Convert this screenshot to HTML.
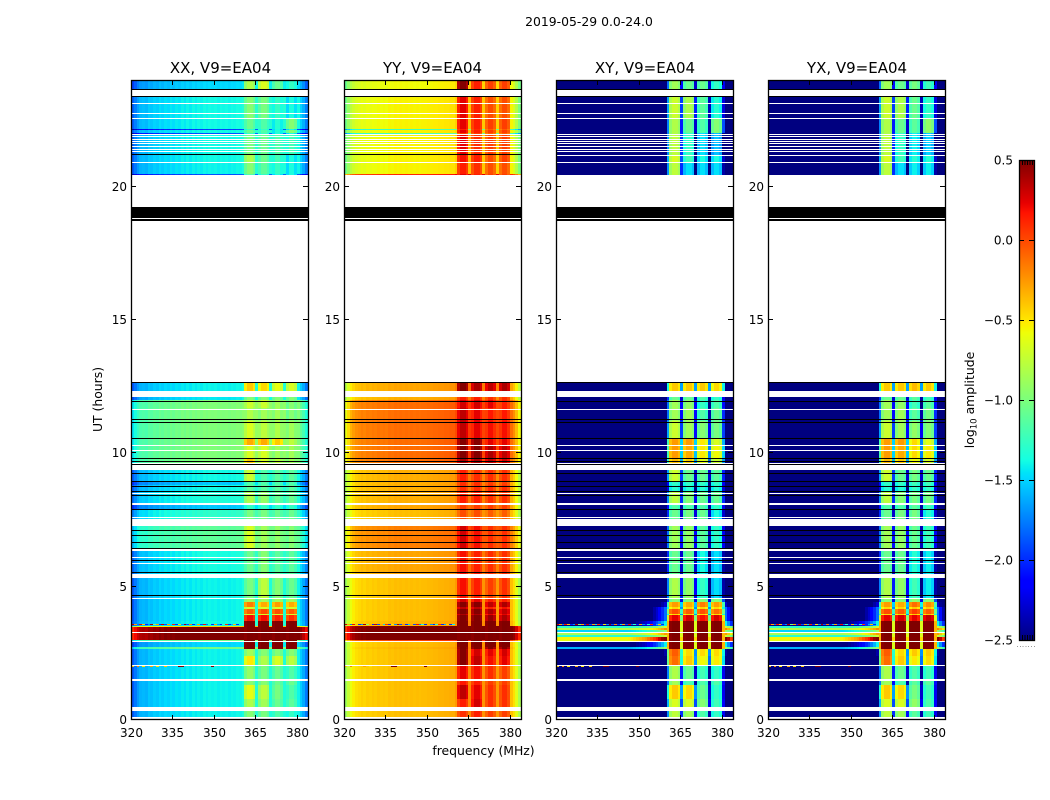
<!DOCTYPE html>
<html lang="en">
<head>
<meta charset="utf-8">
<title>2019-05-29 0.0-24.0 amplitude spectrogram</title>
<style>
html,body{margin:0;padding:0;background:#fff;}
svg{display:block;}
text{font-family:"DejaVu Sans","Liberation Sans",sans-serif;fill:#000;}
</style>
</head>
<body>
<svg id="figure" xmlns="http://www.w3.org/2000/svg" width="1050" height="800" viewBox="0 0 1050 800">
  <rect x="0" y="0" width="1050" height="800" fill="#fff"/>
  <text x="589" y="26" font-size="12.4" text-anchor="middle">2019-05-29 0.0-24.0</text>
  <text x="220.5" y="73" font-size="15" text-anchor="middle">XX, V9=EA04</text>
  <text x="432.5" y="73" font-size="15" text-anchor="middle">YY, V9=EA04</text>
  <text x="645" y="73" font-size="15" text-anchor="middle">XY, V9=EA04</text>
  <text x="857" y="73" font-size="15" text-anchor="middle">YX, V9=EA04</text>
  <text x="0" y="0" font-size="12.4" text-anchor="middle" transform="translate(102,399.5) rotate(-90)">UT (hours)</text>
  <text x="483.5" y="755" font-size="12.4" text-anchor="middle">frequency (MHz)</text>
  <text x="0" y="0" font-size="12.4" text-anchor="middle" transform="translate(974,400) rotate(-90)">log<tspan font-size="8.6" dy="2.5">10</tspan><tspan dy="-2.5"> amplitude</tspan></text>
  <g id="panels"></g>
  <g id="colorbar"></g>
</svg>
<script>
/* ---------- axis values ---------- */
const freqMin = 320;
const freqMax = 384;
const hourMin = 0;
const hourMax = 24;
const colorMin = -2.5;
const colorMax = 0.5;
const xTickValues = [320, 335, 350, 365, 380];
const yTickValues = [0, 5, 10, 15, 20];
const colorbarTicks = [0.5, 0, -0.5, -1, -1.5, -2, -2.5];
const colorbarTickLabels = ["0.5", "0.0", "\u22120.5", "\u22121.0", "\u22121.5", "\u22122.0", "\u22122.5"];
const panelNames = ["xx", "yy", "xy", "yx"];

/* ---------- frequency structure (MHz) ---------- */
const bandStarts = [361, 366, 371, 376];
const bandShape = [-0.08, 0.04, 0.04, -0.06];
const yxBandShift = [0, 0, 0.05, 0.05];
const xxProfile = [-.45,-.35,-.25,-.18,-.16,-.18,-.12,-.14,-.1,-.12,-.07,-.1,-.06,-.08,-.04,-.07,-.03,-.05,-.01,-.04,
  0,-.03,.01,-.02,.01,-.01,.02,0,.02,.01,.02,0,.02,.01,.02,0,.02,.01,.03,.02,
  .06,0,0,0,0,.1,0,0,0,0,.08,0,0,0,0,.08,0,0,0,0,.02,-.1,-.2,-.35];
const yyProfile = [-.5,-.35,-.22,-.15,-.1,-.08,-.05,-.07,-.04,-.05,-.03,-.04,-.02,-.03,-.02,-.03,0,-.01,.01,0,
  .01,0,.01,0,.01,0,.01,0,.01,.01,.02,.02,.03,.03,.04,.04,.05,.05,.06,.06,
  .12,0,0,0,0,.18,0,0,0,0,.14,0,0,0,0,.12,0,0,0,0,0,-.1,-.25,-.45];
const xyRamp = [0,0,0,0,0,0,0,0,0,0,0,0,0,0,0,0,0,0,0,0,
  0,0,0,0,0,.02,.03,.03,.04,.04,.05,.05,.05,.05,.06,.06,.07,.08,.09,.1,
  .1,.1,.1,.1,.1,.1,.1,.1,.1,.1,.1,.1,.1,.1,.1,.1,.1,.1,.1,.1,.1,.1,.1,.1];
const xyRampNear = [0,.02,.05,.1,.15,.2,.25,.3,.4,.5,.6,.7,.85,1,1.2];
const xyRampRight = [1.2,.9,.6];

/* ---------- time structure: one entry per row band (UT hours) ---------- */
const rowStarts = [0,.47,.8,1.3,1.52,2.05,2.4,2.65,2.73,2.96,3.01,3.1,3.2,3.3,3.36,3.45,3.47,3.54,3.7,3.92,3.97,4.15,4.22,4.42,4.55,5.4,6.4,7.3,7.5,7.9,8.1,8.6,8.8,8.97,9.4,9.6,9.8,10.27,10.55,11.2,11.7,12,12.3,12.66,20.42,20.46,20.9,21.2,21.98,22.02,22.14,22.18,22.55,23.4,23.64];
const rowEnd = 24;
const xxBase = [-1.42,-1.42,-1.42,-1.42,-1.42,-1.42,-1.42,-1.05,-1.5,-1.05,.55,.55,.55,.55,.55,.55,-.45,-1.4,-1.42,-1.42,-1.42,-1.42,-1.42,-1.42,-1.42,-1.38,-1.12,-1.12,-1.3,-1.55,-1.35,-1.4,-1.55,-1.4,-1.15,-1,-1,-1,-1,-1,-1,-1.45,-1.42,null,-1.9,-1.42,-1.4,-1.4,-1.9,-1.4,-1.95,-1.4,-1.4,-1.4,-1.5];
const yyBase = [-.38,-.38,-.38,-.38,-.38,-.38,-.38,-.35,-.38,0,.55,.55,.55,.55,.55,.55,.5,-.35,-.38,-.38,-.38,-.38,-.38,-.38,-.38,-.3,-.18,-.18,-.38,-.3,-.33,-.33,-.33,-.33,-.2,-.12,-.12,-.12,-.12,-.12,-.12,-.33,-.3,null,.1,-.55,-.55,-.55,-1.2,-.55,-1.2,-.55,-.55,-.55,-.58];
const xyBase = [-3,-3,-3,-3,-3,-3,-3,-1.6,-2.6,-.6,-.55,-1.3,-.85,-1.5,-.8,-1.3,-1.3,-2.6,-3,-3,-3,-3,-3,-3,-3,-3,-3,-3,-3,-3,-3,-3,-3,-3,-3,-3,-3,-3,-3,-3,-3,-3,-3,null,-3,-3,-3,-3,-3,-3,-3,-3,-3,-3,-3];
const xyLeak = [0,0,0,0,0,0,.5,.6,1,1,1,.5,.5,.5,.5,.5,.5,1,1,1,1,1,.6,.4,0,0,0,0,0,0,0,0,0,0,0,0,.3,.2,0,0,0,0,0,0,0,0,0,0,0,0,0,0,0,0,0];
const xxBands = [[-1,-1.05,-1.2,-1.3],[-.85,-.9,-1.1,-1.15],[-.65,-.8,-1.05,-1.2],[-1,-1,-1.1,-1.1],[-.95,-1.05,-1.1,-1.2],[-.55,-.85,-.7,-.8],[-.9,-1,-1,-1],[.55,.55,.55,.55],[.55,.55,.55,.55],[.55,.55,.55,.55],[.55,.55,.55,.55],[.55,.55,.55,.55],[.55,.55,.55,.55],[.55,.55,.55,.55],[.55,.55,.55,.55],[.55,.55,.55,.55],[.55,.55,.55,.55],[.55,.55,.55,.55],[.15,.15,.1,.05],[-.7,-.7,-.7,-.7],[-.1,-.05,-.05,-.1],[-.7,-.7,-.7,-.7],[-.2,-.35,-.3,-.35],[-.9,-.9,-.9,-.9],[-1.05,-.8,-1,-1.1],[-1.1,-1,-1.15,-1.15],[-.7,-.9,-.95,-1],[-.7,-.9,-.95,-1],[-1.05,-1.05,-1.1,-1.1],[-1.3,-1.3,-1.3,-1.3],[-.85,-.95,-1.1,-1.1],[-1.15,-1.15,-1.15,-1.15],[-1.2,-1.2,-1.2,-1.2],[-.75,-1.2,-1.15,-1.15],[-1,-1,-1,-1],[-.45,-.7,-.8,-.9],[-.7,-.7,-.9,-.9],[-.35,-.35,-.45,-.8],[-.7,-.8,-.85,-.9],[-.85,-.9,-.9,-1],[-.75,-.75,-.9,-1],[-1,-1,-1,-1],[-.45,-.5,-.65,-.7],[0,0,0,0],[-1.2,-1.3,-1.4,-1.4],[-1,-1.15,-1.3,-1.4],[-.85,-1.1,-1.25,-1.4],[-1.05,-1.1,-1.2,-1.25],[-1.3,-1.3,-1.4,-1.4],[-1.1,-1.2,-1.35,-1],[-1.3,-1.3,-1.4,-1.4],[-1.1,-1.2,-1.35,-1],[-1,-1.05,-1.3,-1.4],[-1,-1,-1,-1],[-.85,-.7,-1.1,-1.3]];
const yyBands = [[.05,.1,0,0],[.1,.25,.05,.05],[.3,.2,.05,.05],[.12,.1,0,0],[.2,.15,.05,0],[.45,.3,.15,.2],[.45,.25,.2,.25],[.5,.5,.45,.45],[.55,.55,.55,.55],[.55,.55,.55,.55],[.55,.55,.55,.55],[.55,.55,.55,.55],[.55,.55,.55,.55],[.55,.55,.55,.55],[.55,.55,.55,.55],[.55,.55,.55,.55],[.55,.55,.55,.55],[.55,.55,.55,.55],[.5,.5,.4,.35],[.35,.35,.2,.2],[.5,.45,.35,.3],[.3,.3,.1,.15],[.45,.45,.3,.35],[.25,.2,.1,.1],[.15,.1,0,.05],[.15,.1,.05,.05],[.25,.15,.05,.05],[.25,.15,.05,.05],[-.05,-.05,-.1,-.1],[0,0,0,0],[.1,.1,.05,.05],[.05,.05,.05,.05],[.05,.05,0,0],[.1,.05,.05,.05],[.1,.1,.05,.05],[.35,.35,.3,.25],[.45,.45,.35,.3],[.45,.45,.2,.2],[.3,.2,.15,.15],[.3,.2,.12,.12],[.25,.25,.2,.1],[.1,.1,.05,.05],[.45,.35,.3,.35],[0,0,0,0],[.2,.1,0,0],[.1,.05,-.05,-.05],[.15,.1,-.05,0],[.2,.05,0,0],[0,0,-.1,-.1],[.2,.1,0,0],[.1,.05,-.1,-.1],[.2,.1,0,0],[.2,.1,-.05,-.05],[.2,.1,0,0],[.45,.1,0,0]];
const xyBands = [[-.8,-.9,-1.2,-1.3],[-.7,-.7,-1,-1.25],[-.45,-.5,-1.1,-1.3],[-.9,-1.2,-1.2,-1.2],[-.85,-1.1,-1.25,-1.3],[-.15,-.45,-.6,-.55],[-.1,-.5,-.5,-.5],[.55,.55,.55,.55],[.55,.55,.55,.55],[.55,.55,.55,.55],[.55,.55,.55,.55],[.55,.55,.55,.55],[.55,.55,.55,.55],[.55,.55,.55,.55],[.55,.55,.55,.55],[.55,.55,.55,.55],[.55,.55,.55,.55],[.55,.55,.55,.55],[.2,.25,.15,.25],[-.5,-.5,-.5,-.5],[-.05,-.1,-.05,-.15],[-.5,-.5,-.5,-.5],[-.3,-.35,-.2,-.3],[-1,-1,-1,-1],[-.85,-.95,-1.3,-1.5],[-1.1,-1.1,-1.4,-1.5],[-.9,-.95,-1.15,-1.3],[-.9,-.95,-1.15,-1.3],[-1.1,-1.05,-1.1,-1.4],[-1.2,-1.2,-1.2,-1.3],[-.8,-1,-1.1,-1.1],[-1.35,-1.35,-1.35,-1.35],[-1.3,-1.3,-1.3,-1.3],[-.75,-1.1,-1.1,-1.15],[-1,-1,-1,-1],[-.4,-.45,-.65,-.75],[-.3,-.35,-.55,-.6],[-.3,-.3,-.55,-.7],[-.75,-.9,-1,-1.05],[-.9,-.9,-1.2,-1.1],[-.9,-.95,-1.3,-1.2],[-1.1,-1.1,-1.2,-1.3],[-.45,-.45,-.45,-.5],[0,0,0,0],[-.8,-1.5,-1.5,-1.5],[-.8,-1.5,-1.5,-1.5],[-.7,-1.25,-1.4,-1.4],[-.8,-1.3,-1.5,-1.6],[-.85,-1.3,-1.5,-1.6],[-.85,-1.1,-1.2,-1],[-.85,-1.1,-1.2,-1],[-.85,-1.1,-1.2,-1],[-.75,-.85,-1.15,-1.35],[-.75,-.85,-1.15,-1.35],[-.9,-1.1,-1.1,-1.3]];

/* ---------- flagged intervals: [start hour, end hour] ---------- */
const whiteGaps = [[0,.105],[.32,.47],[1.455,1.52],[2.04,2.08],[2.91,2.955],[3.27,3.3],[4.53,4.57],[5.31,5.47],[5.84,5.87],[6.07,6.1],[6.345,6.4],[7.29,7.54],[7.58,7.62],[8.08,8.12],[8.49,8.52],[8.54,8.58],[9.39,9.57],[9.61,9.645],[10.12,10.14],[10.27,10.31],[11.655,11.68],[12.13,12.29],[12.32,12.355],[12.66,18.71],[18.77,18.81],[19.22,20.42],[20.88,20.92],[21.31,21.34],[21.39,21.43],[21.48,21.53],[21.59,21.62],[21.67,21.7],[21.78,21.8],[21.86,21.89],[21.94,21.98],[22.53,22.56],[22.76,22.78],[23.09,23.12],[23.39,23.64]];
const blackLines = [[4.645,4.67],[5.53,5.56],[5.97,6.01],[6.44,6.46],[6.67,6.69],[6.91,6.93],[7.12,7.14],[7.88,7.92],[8.42,8.44],[8.585,8.6],[8.77,8.79],[8.93,8.97],[9.26,9.28],[9.59,9.61],[9.69,9.72],[9.81,9.83],[10.53,10.56],[11.17,11.19],[11.27,11.3],[11.96,11.98],[12.62,12.66],[18.7,18.77],[18.81,19.22],[23.35,23.39],[23.64,23.68]];
const copolOnlyBlack = [[21.17,21.21]];
const crosspolOnlyWhite = [[21.15,21.19]];

/* ---------- short RFI speckle rows: channel / level pairs ---------- */
const speckleHours = [2.02, 3.6];
const speckleChannelsLow = [320,322,324,327,329,332,337,338,349];
const speckleLevelsLow = [-.4,-.2,-.5,-.3,-.5,-.4,.5,.5,.5];
const speckleChannelsHigh = [320,321,322,323,324,325,326,327,328,329,330,331,332,333,334,335,336,337,338,339,340,341,342,343,344,345,346,347,348,349,350,351,352,353,354,355,356,357,358,359];
const speckleLevelsHigh = [.3,-.3,-1.8,.2,-.4,-2,-1.7,.4,-1,-.3,-2,.3,-1.9,-.3,-1.5,.1,-2,-.5,-1.7,.4,-1.9,-.2,-2,-1.5,-.3,-1.9,.2,-1.8,-1.3,-2,-.3,-1.7,-2,-1.3,.1,-2,-1.6,-.4,-2,-1.4];

/* ---------- scales ---------- */
const NS = "http://www.w3.org/2000/svg";
const panelLefts = [131, 344, 556, 768];
const panelWidth = 177;
const panelTop = 80;
const panelBottom = 720;
const barLeft = 1019;
const barRight = 1034;
const barTop = 160;
const barBottom = 640;

function xScale(panelIndex, mhz) {
  return panelLefts[panelIndex] + (mhz - freqMin) / (freqMax - freqMin) * panelWidth;
}
function yScale(hour) {
  return panelBottom - (hour - hourMin) / (hourMax - hourMin) * (panelBottom - panelTop);
}
function barScale(level) {
  return barBottom - (level - colorMin) / (colorMax - colorMin) * (barBottom - barTop);
}
function lerpStops(stops, t) {
  for (let i = 1; i < stops.length; i++) {
    if (t <= stops[i][0]) {
      const a = stops[i - 1];
      const b = stops[i];
      return a[1] + (b[1] - a[1]) * (t - a[0]) / (b[0] - a[0]);
    }
  }
  return stops[stops.length - 1][1];
}
const jetRed = [[0, 0], [.35, 0], [.66, 1], [.89, 1], [1, .5]];
const jetGreen = [[0, 0], [.125, 0], [.375, 1], [.64, 1], [.91, 0], [1, 0]];
const jetBlue = [[0, .5], [.11, 1], [.34, 1], [.65, 0], [1, 0]];
function colorFor(level) {
  const t = Math.max(0, Math.min(1, (level - colorMin) / (colorMax - colorMin)));
  const r = Math.round(255 * lerpStops(jetRed, t));
  const g = Math.round(255 * lerpStops(jetGreen, t));
  const b = Math.round(255 * lerpStops(jetBlue, t));
  return "rgb(" + r + "," + g + "," + b + ")";
}
function makeRect(parent, x, y, w, h, fill) {
  const el = document.createElementNS(NS, "rect");
  el.setAttribute("x", x);
  el.setAttribute("y", y);
  el.setAttribute("width", w);
  el.setAttribute("height", h);
  el.setAttribute("fill", fill);
  el.setAttribute("shape-rendering", "crispEdges");
  parent.appendChild(el);
  return el;
}
function makeLine(parent, x1, y1, x2, y2) {
  const el = document.createElementNS(NS, "line");
  el.setAttribute("x1", x1);
  el.setAttribute("y1", y1);
  el.setAttribute("x2", x2);
  el.setAttribute("y2", y2);
  el.setAttribute("stroke", "#000");
  el.setAttribute("stroke-width", "1");
  el.setAttribute("shape-rendering", "crispEdges");
  parent.appendChild(el);
  return el;
}
function makeLabel(parent, x, y, anchor, content) {
  const el = document.createElementNS(NS, "text");
  el.setAttribute("x", x);
  el.setAttribute("y", y);
  el.setAttribute("font-size", "12");
  el.setAttribute("text-anchor", anchor);
  el.textContent = content;
  parent.appendChild(el);
  return el;
}
function bandIndexOf(mhz) {
  for (let k = 0; k < bandStarts.length; k++) {
    if (mhz >= bandStarts[k] && mhz < bandStarts[k] + 4) return k;
  }
  return -1;
}
function rampAt(channel) {
  if (channel >= 345 && channel < 360) return xyRampNear[channel - 345];
  if (channel >= 381) return xyRampRight[channel - 381];
  return xyRamp[channel - freqMin];
}
function cellLevel(panelIndex, row, channel) {
  const band = bandIndexOf(channel);
  const offset = band >= 0 ? bandShape[channel - bandStarts[band]] : 0;
  if (panelIndex === 0) {
    return band >= 0 ? xxBands[row][band] + offset : xxBase[row] + xxProfile[channel - freqMin];
  }
  if (panelIndex === 1) {
    return band >= 0 ? yyBands[row][band] + offset : yyBase[row] + yyProfile[channel - freqMin];
  }
  const shift = panelIndex === 3 ? 1 : 0;
  if (band >= 0) return xyBands[row][band] + offset + shift * yxBandShift[band];
  const background = xyBase[row] + xyLeak[row] * rampAt(channel);
  if (channel >= 360 && channel <= 380) {
    const neighbour = channel === 380 ? 3 : Math.max(0, (channel - 361) / 5 | 0);
    const drop = channel === 360 || channel === 380 ? 0.9 : 1.2;
    return Math.max(xyBands[row][neighbour] - drop, background);
  }
  return background;
}

/* ---------- draw panels ---------- */
const panelsGroup = document.getElementById("panels");
panelNames.forEach(function (name, p) {
  const group = document.createElementNS(NS, "g");
  
  
  panelsGroup.appendChild(group);

  for (let r = 0; r < rowStarts.length; r++) {
    if (xxBase[r] === null) continue;
    const yTop = Math.round(yScale(r + 1 < rowStarts.length ? rowStarts[r + 1] : rowEnd));
    const yBot = Math.round(yScale(rowStarts[r]));
    for (let c = freqMin; c < freqMax; c++) {
      const x0 = Math.round(xScale(p, c));
      const x1 = Math.round(xScale(p, c + 1));
      const cell = makeRect(group, x0, yTop, x1 - x0, Math.max(1, yBot - yTop), colorFor(cellLevel(p, r, c)));
      
      
    }
  }

  function drawSpeckles(hour, channels, levels) {
    const y = Math.round(yScale(hour));
    channels.forEach(function (channel, i) {
      const x0 = Math.round(xScale(p, channel));
      const x1 = Math.round(xScale(p, channel + 1));
      const speck = makeRect(group, x0, y, x1 - x0, 1, colorFor(levels[i]));
      
      
    });
  }
  drawSpeckles(speckleHours[0], speckleChannelsLow, speckleLevelsLow);
  drawSpeckles(speckleHours[1], speckleChannelsHigh, speckleLevelsHigh);

  const x0 = panelLefts[p];
  function drawMask(interval, fill, label) {
    const yTop = Math.round(yScale(interval[1]));
    const yBot = Math.round(yScale(interval[0]));
    const mask = makeRect(group, x0, yTop, panelWidth, Math.max(1, yBot - yTop), fill);
    
    
  }
  whiteGaps.forEach(function (gap) { drawMask(gap, "#fff", "flagged-gap"); });
  blackLines.forEach(function (line) { drawMask(line, "#000", "zero-line"); });
  if (p < 2) {
    copolOnlyBlack.forEach(function (line) { drawMask(line, "#000", "zero-line"); });
  } else {
    crosspolOnlyWhite.forEach(function (gap) { drawMask(gap, "#fff", "flagged-gap"); });
  }

  const frame = document.createElementNS(NS, "rect");
  frame.setAttribute("x", x0 + 0.5);
  frame.setAttribute("y", panelTop + 0.5);
  frame.setAttribute("width", panelWidth);
  frame.setAttribute("height", panelBottom - panelTop - 1);
  frame.setAttribute("fill", "none");
  frame.setAttribute("stroke", "#000");
  frame.setAttribute("stroke-width", "1.3");
  
  
  group.appendChild(frame);

  xTickValues.forEach(function (value) {
    const x = Math.round(xScale(p, value)) + 0.5;
    const bottomTick = makeLine(group, x, panelBottom, x, panelBottom - 5);
    
    
    const topTick = makeLine(group, x, panelTop, x, panelTop + 5);
    
    
    const label = makeLabel(group, x, 737, "middle", String(value));
    
    
  });
  yTickValues.forEach(function (value) {
    const y = Math.round(yScale(value)) - 0.5;
    const leftTick = makeLine(group, x0, y, x0 + 5, y);
    
    
    const rightTick = makeLine(group, x0 + panelWidth, y, x0 + panelWidth - 5, y);
    
    
    const label = makeLabel(group, x0 - 4, y + 4.5, "end", String(value));
    
    
  });
});

/* ---------- draw colorbar ---------- */
const barGroup = document.getElementById("colorbar");
for (let y = barTop; y < barBottom; y++) {
  const level = colorMax - (y + 0.5 - barTop) / (barBottom - barTop) * (colorMax - colorMin);
  const strip = makeRect(barGroup, barLeft, y, barRight - barLeft, 1, colorFor(level));
  
  
}
const barFrame = document.createElementNS(NS, "rect");
barFrame.setAttribute("x", barLeft + 0.5);
barFrame.setAttribute("y", barTop + 0.5);
barFrame.setAttribute("width", barRight - barLeft);
barFrame.setAttribute("height", barBottom - barTop);
barFrame.setAttribute("fill", "none");
barFrame.setAttribute("stroke", "#000");
barFrame.setAttribute("stroke-width", "1.3");


barGroup.appendChild(barFrame);
colorbarTicks.forEach(function (value, i) {
  const y = Math.round(barScale(value)) + 0.5;
  const left = makeLine(barGroup, barLeft, y, barLeft + 5, y);
  
  
  const right = makeLine(barGroup, barRight, y, barRight - 5, y);
  
  
  const label = makeLabel(barGroup, barLeft - 6, y + 4, "end", colorbarTickLabels[i]);
  
  
});
for (let i = 0; i < 5; i++) {
  const x = barLeft + 3.5 + i * 2.5;
  const topMark = makeLine(barGroup, x, barTop, x, barTop + 5);
  
  
  const bottomMark = makeLine(barGroup, x, barBottom, x, barBottom - 5);
  
  
}
for (let i = 0; i < 7; i++) {
  const dot = makeRect(barGroup, barLeft - 2 + i * 2.8, 646, 1, 1, "#999");
  
  
}
</script>
</body>
</html>
